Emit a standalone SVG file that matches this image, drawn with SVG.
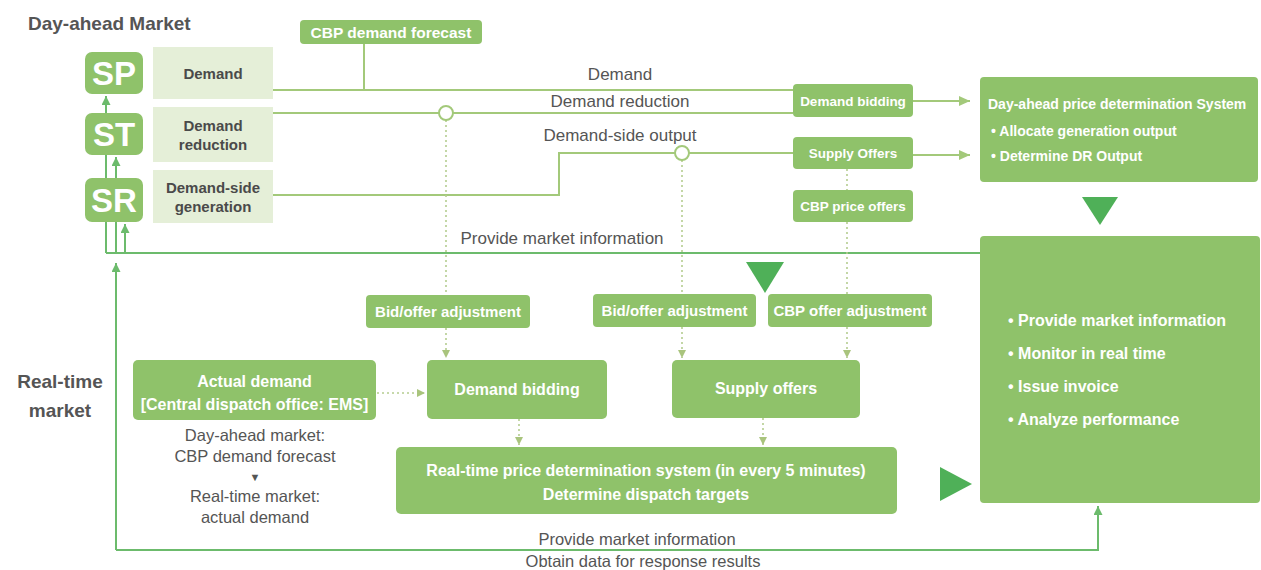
<svg xmlns="http://www.w3.org/2000/svg" width="1261" height="570" viewBox="0 0 1261 570">
<defs>
<style>
.box{fill:#8fc26a}
.lt{fill:#e5efd8}
.tri{fill:#4fb058}
.wt{fill:#fff;font-family:"Liberation Sans",Arial,sans-serif;font-weight:bold;text-anchor:middle}
.wl{fill:#fff;font-family:"Liberation Sans",Arial,sans-serif;font-weight:bold}
.dk{fill:#4a4a4a;font-family:"Liberation Sans",Arial,sans-serif;font-weight:bold;text-anchor:middle}
.gt{fill:#555;font-family:"Liberation Sans",Arial,sans-serif;text-anchor:middle}
.ttl{fill:#555;font-family:"Liberation Sans",Arial,sans-serif;font-weight:bold;font-size:19px}
.ln{fill:none;stroke:#a3c97a;stroke-width:2}
.ln2{fill:none;stroke:#6cbb6c;stroke-width:2}
.dot{fill:none;stroke:#b5cd90;stroke-width:1.6;stroke-dasharray:2 3}
</style>
<marker id="a1" markerUnits="userSpaceOnUse" markerWidth="11" markerHeight="10" viewBox="0 0 11 10" refX="11" refY="5" orient="auto"><path d="M0 0 L11 5 L0 10 Z" fill="#a3c97a"/></marker>
<marker id="a2" markerUnits="userSpaceOnUse" markerWidth="9" markerHeight="9" viewBox="0 0 9 9" refX="9" refY="4.5" orient="auto"><path d="M0 0 L9 4.5 L0 9 Z" fill="#6cbb6c"/></marker>
<marker id="a3" markerUnits="userSpaceOnUse" markerWidth="8" markerHeight="8" viewBox="0 0 8 8" refX="8" refY="4" orient="auto"><path d="M0 0 L8 4 L0 8 Z" fill="#a9c47d"/></marker>
</defs>
<rect width="1261" height="570" fill="#fff"/>

<text class="ttl" x="28" y="30">Day-ahead Market</text>
<text class="ttl" x="60" y="388" text-anchor="middle" font-size="20">Real-time</text>
<text class="ttl" x="60" y="417" text-anchor="middle" font-size="20">market</text>

<g id="connectors">
  <path class="ln2" d="M980 253 H106"/>
  <path class="ln2" d="M106 253 V96" marker-end="url(#a2)"/>
  <path class="ln2" d="M116 253 V157" marker-end="url(#a2)"/>
  <path class="ln2" d="M125 253 V224" marker-end="url(#a2)"/>
  <path class="ln2" d="M116 550 V263" marker-end="url(#a2)"/>
  <path class="ln2" d="M116 550 H1098 V506" marker-end="url(#a2)"/>
  <path class="ln" d="M364 44 V90"/>
  <path class="ln" d="M273 90 H793"/>
  <path class="ln" d="M273 113 H793"/>
  <path class="ln" d="M273 195 H559 V153 H793"/>
  <path class="ln" d="M913 101 H970" marker-end="url(#a1)"/>
  <path class="ln" d="M913 155 H970" marker-end="url(#a1)"/>
  <path class="dot" d="M446 120 V295"/>
  <path class="dot" d="M446 328 V358" marker-end="url(#a3)"/>
  <path class="dot" d="M682 160 V294"/>
  <path class="dot" d="M682 327 V358" marker-end="url(#a3)"/>
  <path class="dot" d="M847 169 V190"/>
  <path class="dot" d="M847 222 V294"/>
  <path class="dot" d="M847 327 V358" marker-end="url(#a3)"/>
  <path class="dot" d="M519 419 V445" marker-end="url(#a3)"/>
  <path class="dot" d="M763 418 V445" marker-end="url(#a3)"/>
  <path class="dot" d="M377 393 H425" marker-end="url(#a3)"/>
  <circle cx="446" cy="113" r="7" fill="#fff" stroke="#a3c97a" stroke-width="2"/>
  <circle cx="682" cy="153" r="7" fill="#fff" stroke="#a3c97a" stroke-width="2"/>
  <text class="gt" x="620" y="80" font-size="17">Demand</text>
  <text class="gt" x="620" y="107" font-size="17">Demand reduction</text>
  <text class="gt" x="620" y="141" font-size="17">Demand-side output</text>
  <text class="gt" x="562" y="244" font-size="17">Provide market information</text>
  <text class="gt" x="637" y="545" font-size="16.5">Provide market information</text>
  <text class="gt" x="643" y="567" font-size="16.5">Obtain data for response results</text>
</g>

<g id="sp"><rect class="box" x="85" y="52" width="58" height="42" rx="7"/><text class="wt" x="114" y="85" font-size="33">SP</text></g>
<g id="st"><rect class="box" x="85" y="113" width="58" height="42" rx="7"/><text class="wt" x="114" y="146" font-size="33">ST</text></g>
<g id="sr"><rect class="box" x="85" y="178" width="58" height="44" rx="7"/><text class="wt" x="114" y="212" font-size="33">SR</text></g>

<g id="demand"><rect class="lt" x="153" y="47" width="120" height="52"/><text class="dk" x="213" y="79" font-size="15">Demand</text></g>
<g id="demand-reduction"><rect class="lt" x="153" y="107" width="120" height="55"/><text class="dk" x="213" y="131" font-size="15">Demand</text><text class="dk" x="213" y="150" font-size="15">reduction</text></g>
<g id="demand-side-generation"><rect class="lt" x="153" y="170" width="120" height="53"/><text class="dk" x="213" y="193" font-size="15">Demand-side</text><text class="dk" x="213" y="212" font-size="15">generation</text></g>

<g id="cbp-demand-forecast"><rect class="box" x="300" y="20" width="182" height="24" rx="4"/><text class="wt" x="391" y="37.5" font-size="15.5">CBP demand forecast</text></g>

<g id="da-demand-bidding"><rect class="box" x="793" y="84" width="120" height="33" rx="4"/><text class="wt" x="853" y="106" font-size="13.5">Demand bidding</text></g>
<g id="da-supply-offers"><rect class="box" x="793" y="137" width="120" height="32" rx="4"/><text class="wt" x="853" y="158" font-size="13.5">Supply Offers</text></g>
<g id="cbp-price-offers"><rect class="box" x="793" y="190" width="120" height="32" rx="4"/><text class="wt" x="853" y="211" font-size="13.5">CBP price offers</text></g>

<g id="da-price-system"><rect class="box" x="980" y="77" width="278" height="105" rx="4"/>
<text class="wl" x="988" y="109" font-size="14">Day-ahead price determination System</text>
<text class="wl" x="991" y="136" font-size="14">• Allocate generation output</text>
<text class="wl" x="991" y="161" font-size="14">• Determine DR Output</text></g>

<polygon class="tri" points="1082,197 1118,197 1100,225"/>
<polygon class="tri" points="746,262 784,262 765,293"/>
<polygon class="tri" points="940,467 940,501 972,484"/>

<g id="market-operations"><rect class="box" x="980" y="236" width="280" height="267" rx="4"/>
<text class="wl" x="1008" y="326" font-size="16">• Provide market information</text>
<text class="wl" x="1008" y="359" font-size="16">• Monitor in real time</text>
<text class="wl" x="1008" y="392" font-size="16">• Issue invoice</text>
<text class="wl" x="1008" y="425" font-size="16">• Analyze performance</text></g>

<g id="bid-offer-adjustment-1"><rect class="box" x="366" y="295" width="164" height="33" rx="4"/><text class="wt" x="448" y="317" font-size="15">Bid/offer adjustment</text></g>
<g id="bid-offer-adjustment-2"><rect class="box" x="593" y="294" width="163" height="33" rx="4"/><text class="wt" x="674.5" y="316" font-size="15">Bid/offer adjustment</text></g>
<g id="cbp-offer-adjustment"><rect class="box" x="768" y="294" width="164" height="33" rx="4"/><text class="wt" x="850" y="316" font-size="15">CBP offer adjustment</text></g>

<g id="actual-demand"><rect class="box" x="133" y="360" width="243" height="60" rx="5"/>
<text class="wt" x="254.5" y="387" font-size="16">Actual demand</text>
<text class="wt" x="254.5" y="410" font-size="16">[Central dispatch office: EMS]</text></g>
<g id="actual-demand-note">
<text class="gt" x="255" y="441" font-size="16.5">Day-ahead market:</text>
<text class="gt" x="255" y="462" font-size="16.5">CBP demand forecast</text>
<text class="gt" x="255" y="481" font-size="11">▼</text>
<text class="gt" x="255" y="502" font-size="16.5">Real-time market:</text>
<text class="gt" x="255" y="523" font-size="16.5">actual demand</text></g>

<g id="rt-demand-bidding"><rect class="box" x="427" y="360" width="180" height="59" rx="5"/><text class="wt" x="517" y="395" font-size="16">Demand bidding</text></g>
<g id="rt-supply-offers"><rect class="box" x="672" y="360" width="188" height="58" rx="5"/><text class="wt" x="766" y="394" font-size="16">Supply offers</text></g>
<g id="rt-price-system"><rect class="box" x="396" y="447" width="501" height="67" rx="5"/>
<text class="wt" x="646" y="476" font-size="16">Real-time price determination system (in every 5 minutes)</text>
<text class="wt" x="646" y="500" font-size="16">Determine dispatch targets</text></g>
</svg>
